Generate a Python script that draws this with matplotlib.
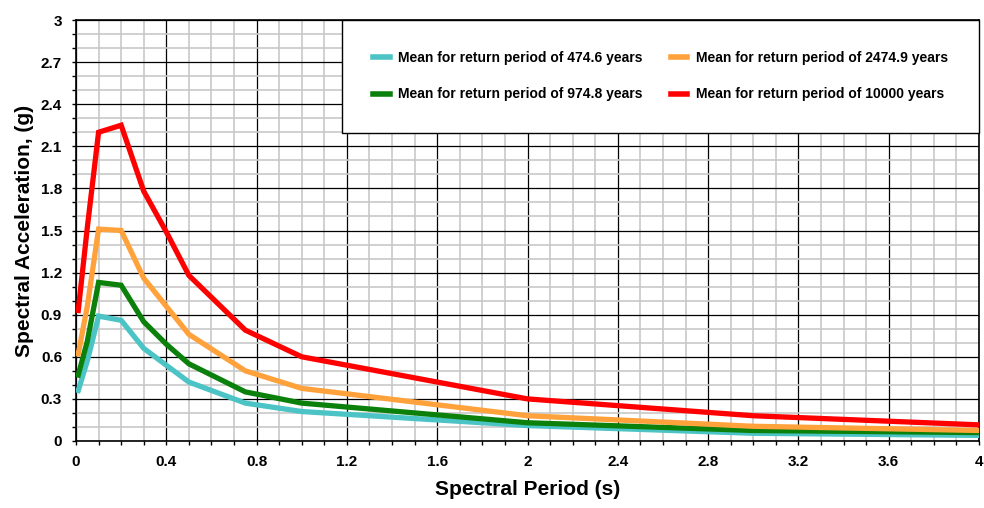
import matplotlib
matplotlib.use('Agg')
import matplotlib.pyplot as plt
from matplotlib.ticker import MultipleLocator, FormatStrFormatter

plt.rcParams['font.family'] = ['Liberation Sans', 'DejaVu Sans']
plt.rcParams['font.weight'] = 'bold'

# spectral periods (s) and mean spectral accelerations (g)
periods = [0.01, 0.05, 0.1, 0.2, 0.3, 0.4, 0.5, 0.75, 1.0, 2.0, 3.0, 4.0]
sa_475 = [0.36, 0.57, 0.89, 0.86, 0.66, 0.54, 0.42, 0.27, 0.21, 0.11, 0.055, 0.04]
sa_975 = [0.47, 0.71, 1.13, 1.11, 0.85, 0.69, 0.55, 0.35, 0.27, 0.13, 0.075, 0.06]
sa_2475 = [0.62, 0.96, 1.51, 1.50, 1.16, 0.96, 0.76, 0.50, 0.375, 0.18, 0.105, 0.075]
sa_10000 = [0.93, 1.52, 2.20, 2.25, 1.78, 1.49, 1.18, 0.79, 0.60, 0.30, 0.18, 0.115]

labels = ['Mean for return period of 474.6 years',
          'Mean for return period of 974.8 years',
          'Mean for return period of 2474.9 years',
          'Mean for return period of 10000 years']
colors = ['#4cc4c6', '#0b800b', '#ffa23c', '#ff0000']

fig = plt.figure(figsize=(9.84, 5.08), dpi=100)
ax = fig.add_axes([76/984, 1-441/508, 903/984, 421/508])

for ys, lab, c in zip([sa_475, sa_975, sa_2475, sa_10000], labels, colors):
    ax.plot(periods, ys, color=c, lw=3.8, label=lab, zorder=3,
            solid_joinstyle='miter')

ax.set_xlim(0, 4)
ax.set_ylim(0, 3)
ax.xaxis.set_major_locator(MultipleLocator(0.4))
ax.xaxis.set_minor_locator(MultipleLocator(0.1))
ax.yaxis.set_major_locator(MultipleLocator(0.3))
ax.yaxis.set_minor_locator(MultipleLocator(0.1))
ax.xaxis.set_major_formatter(FormatStrFormatter('%g'))
ax.yaxis.set_major_formatter(FormatStrFormatter('%g'))

ax.grid(which='minor', color='#c8c8c8', lw=1.2, zorder=0)
ax.grid(which='major', color='black', lw=0.9, zorder=1)
ax.set_axisbelow(True)

ax.tick_params(which='both', direction='out', length=3, width=1, color='black')
ax.tick_params(which='major', labelsize=11, pad=7)
for sp in ax.spines.values():
    sp.set_linewidth(1.2)

ax.set_xlabel('Spectral Period (s)', fontsize=15, fontweight='bold', labelpad=8)
ax.set_ylabel('Spectral Acceleration, (g)', fontsize=15, fontweight='bold', labelpad=5)

leg = ax.legend(loc='upper left', bbox_to_anchor=(0.2946, 0.0, 0.7054, 1.0),
                mode='expand', ncol=2, fontsize=10, frameon=True, fancybox=False,
                borderpad=2.25, labelspacing=1.6, handlelength=1.2,
                handletextpad=0.6, columnspacing=2.5, borderaxespad=0)
leg.get_frame().set_edgecolor('black')
leg.get_frame().set_linewidth(1.0)
leg.get_frame().set_alpha(1)
for h in leg.get_lines():
    h.set_linewidth(4)

fig.savefig('out.png', dpi=100)
